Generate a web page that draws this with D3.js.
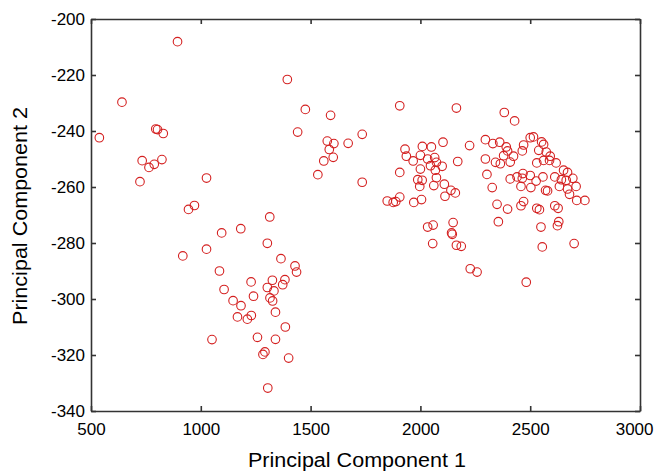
<!DOCTYPE html>
<html>
<head>
<meta charset="utf-8">
<script src="https://d3js.org/d3.v7.min.js"></script>
<style>
  body { margin: 0; background: #fff; }
  svg { display: block; font-family: "Liberation Sans", Arial, sans-serif; }
</style>
</head>
<body>
<svg width="656" height="475"></svg>
<script>
// scores on the first two principal components
const pc1 = [
  538, 641, 894, 795, 803, 829, 733, 764, 788, 823, 723, 1026, 944, 971, 1314,
  1394, 1476, 1441, 1591, 1576, 1606, 1585, 1603, 1560, 1533, 1182, 1095, 1303,
  1026, 918, 1365, 1429, 1436, 1085, 1229, 1326, 1383, 1373, 1303, 1333, 1106,
  1240, 1315, 1327, 1147, 1183, 1340, 1167, 1230, 1212, 1385, 1258, 1340, 1051,
  1292, 1283, 1400, 1305,
  1906, 2164, 2382, 2429, 1735, 1671, 1735, 2103, 2009, 2050, 1930, 2224, 1936,
  1967, 2000, 2033, 2065, 2073, 2046, 2099, 2170, 1906, 2000, 2068, 1988, 2008,
  2073, 1997, 2061, 2109, 2139, 2159, 2112, 1906, 1849, 1876, 1888, 1970, 2005,
  2033, 2058, 2149, 2142, 2145, 2056, 2164, 2186, 2227, 2258, 2482,
  2296, 2330, 2361, 2391, 2397, 2379, 2424, 2409, 2364, 2342, 2296, 2470, 2464,
  2500, 2515, 2552, 2561, 2539, 2573, 2591, 2561, 2588, 2618, 2530, 2303, 2409,
  2440, 2467, 2464, 2500, 2527, 2558, 2458, 2503, 2570, 2579, 2612, 2652, 2670,
  2642, 2664, 2694, 2633, 2670, 2709, 2679, 2712, 2749, 2327, 2349, 2397, 2458,
  2470, 2530, 2542, 2612, 2627, 2630, 2624, 2549, 2355, 2555, 2700
];
const pc2 = [
  -242.4, -229.7, -208.1, -239.3, -239.5, -240.9, -250.6, -253.0, -251.9, -250.2,
  -258.1, -256.8, -268.0, -266.6, -270.7, -221.6, -232.3, -240.4, -234.4, -243.6,
  -244.5, -246.6, -249.4, -250.7, -255.6, -274.9, -276.4, -280.1, -282.2, -284.6,
  -285.6, -288.2, -290.4, -290.0, -293.9, -293.3, -293.1, -294.9, -295.9, -297.1,
  -296.6, -299.0, -299.6, -300.7, -300.6, -302.4, -304.7, -306.4, -305.9, -307.2,
  -310.0, -313.7, -314.4, -314.5, -318.9, -319.8, -321.1, -331.8,
  -231.0, -231.8, -233.4, -236.4, -241.2, -244.4, -258.3, -244.0, -245.5, -245.7,
  -246.5, -245.2, -249.0, -250.7, -248.7, -250.0, -249.5, -251.2, -252.4, -252.6,
  -250.9, -254.8, -253.6, -254.0, -257.4, -257.6, -256.7, -259.8, -259.5, -259.0,
  -261.2, -262.1, -263.3, -263.6, -265.0, -265.5, -265.2, -265.5, -264.5, -274.3,
  -273.6, -272.7, -276.4, -276.9, -280.2, -280.8, -281.2, -289.2, -290.4, -294.0,
  -243.1, -244.5, -244.0, -245.7, -247.1, -248.8, -249.0, -251.1, -251.7, -251.2,
  -250.0, -245.0, -247.1, -242.4, -242.1, -243.9, -244.8, -246.9, -247.5, -249.0,
  -250.5, -250.5, -251.4, -251.4, -255.5, -257.1, -256.4, -255.2, -256.9, -255.9,
  -257.9, -256.4, -259.8, -260.2, -261.2, -261.4, -256.4, -254.0, -254.8, -257.4,
  -257.6, -256.9, -259.8, -260.7, -259.8, -262.6, -264.8, -264.8, -260.2, -266.2,
  -267.9, -266.7, -265.2, -267.6, -268.1, -266.7, -267.6, -272.4, -273.8, -274.3,
  -272.4, -281.4, -280.2
];
const xTicks = [500, 1000, 1500, 2000, 2500, 3000];
const yTicks = [-340, -320, -300, -280, -260, -240, -220, -200];

const points = pc1.map((v, i) => ({ x: v, y: pc2[i] }));

const svg = d3.select("svg");
const plotLeft = 91, plotRight = 640, plotTop = 19, plotBottom = 411;

const x = d3.scaleLinear().domain([500, 3000]).range([plotLeft, plotRight]);
const y = d3.scaleLinear().domain([-340, -200]).range([plotBottom, plotTop]);

const axisColor = "#333";
const plain = d => String(d);   // "-200", "1000" — no thousands comma, ascii minus

// bottom axis
const gx = svg.append("g")
  .attr("transform", `translate(0,${plotBottom})`)
  .call(d3.axisBottom(x).tickValues(xTicks).tickFormat(plain)
    .tickSizeInner(-5).tickSizeOuter(0).tickPadding(12));
// left axis
const gy = svg.append("g")
  .attr("transform", `translate(${plotLeft},0)`)
  .call(d3.axisLeft(y).tickValues(yTicks).tickFormat(plain)
    .tickSizeInner(-5).tickSizeOuter(0).tickPadding(6));
// top and right (ticks only)
const gt = svg.append("g")
  .attr("transform", `translate(0,${plotTop})`)
  .call(d3.axisTop(x).tickValues(xTicks).tickSizeInner(-5).tickSizeOuter(0).tickFormat(""));
const gr = svg.append("g")
  .attr("transform", `translate(${plotRight},0)`)
  .call(d3.axisRight(y).tickValues(yTicks).tickSizeInner(-5).tickSizeOuter(0).tickFormat(""));

[gx, gy, gt, gr].forEach(g => {
  g.select(".domain").attr("stroke", axisColor).attr("stroke-width", 1.6);
  g.selectAll(".tick line").attr("stroke", axisColor).attr("stroke-width", 1.6);
  g.selectAll(".tick text").attr("fill", "#000").attr("font-size", "17px")
    .attr("font-family", "Liberation Sans, Arial, sans-serif");
});
// last x label sits pulled in from the right edge
gx.selectAll(".tick text").filter(d => d === 3000)
  .attr("text-anchor", "end").attr("x", 13);

// markers
svg.append("g").selectAll("circle")
  .data(points)
  .enter().append("circle")
  .attr("cx", d => x(d.x))
  .attr("cy", d => y(d.y))
  .attr("r", 4.3)
  .attr("fill", "none")
  .attr("stroke", "#d42020")
  .attr("stroke-width", 1.1);

// axis titles
svg.append("text")
  .attr("x", 357)
  .attr("y", 467)
  .attr("text-anchor", "middle")
  .attr("font-size", "20px")
  .attr("textLength", 218)
  .attr("lengthAdjust", "spacingAndGlyphs")
  .attr("fill", "#000")
  .text("Principal Component 1");

svg.append("text")
  .attr("transform", `translate(27,216) rotate(-90)`)
  .attr("text-anchor", "middle")
  .attr("font-size", "20px")
  .attr("textLength", 218)
  .attr("lengthAdjust", "spacingAndGlyphs")
  .attr("fill", "#000")
  .text("Principal Component 2");
</script>
</body>
</html>
